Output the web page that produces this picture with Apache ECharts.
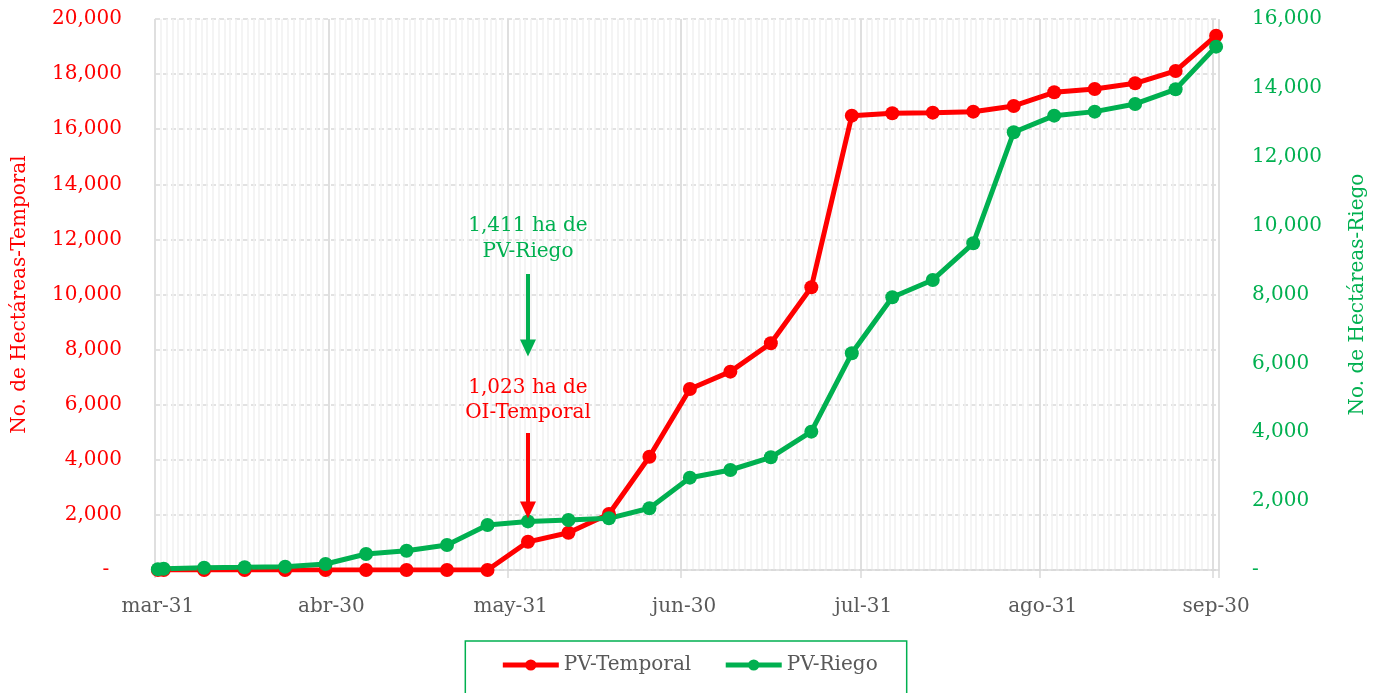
<!DOCTYPE html>
<html>
<head>
<meta charset="utf-8">
<script src="https://cdn.jsdelivr.net/npm/echarts@6/dist/echarts.min.js"></script>
<style>html,body{margin:0;padding:0;background:#fff}#c{width:1378px;height:693px}</style>
</head>
<body>
<div id="c"></div>
<script>
// Measurement dates (weekly reports)
const dates = ['2020-03-31','2020-04-01','2020-04-08','2020-04-15','2020-04-22','2020-04-29','2020-05-06','2020-05-13','2020-05-20','2020-05-27','2020-06-03','2020-06-10','2020-06-17','2020-06-24','2020-07-01','2020-07-08','2020-07-15','2020-07-22','2020-07-29','2020-08-05','2020-08-12','2020-08-19','2020-08-26','2020-09-02','2020-09-09','2020-09-16','2020-09-23','2020-09-30'];
// PV-Temporal (left axis, ha)
const temporal = [0,0,0,0,0,0,0,0,0,0,1023,1354,2033,4113,6570,7199,8229,10262,16492,16578,16600,16637,16843,17340,17460,17667,18114,19395];
// PV-Riego (right axis, ha)
const riego = [20,35,67,78,97,174,465,561,726,1307,1411,1452,1501,1792,2681,2904,3272,4017,6293,7919,8422,9487,12711,13193,13310,13533,13959,15197];
// x-axis tick dates and labels
const tickDates = ['2020-03-31','2020-04-30','2020-05-31','2020-06-30','2020-07-31','2020-08-31','2020-09-30'];
const tickLabels = ['mar-31','abr-30','may-31','jun-30','jul-31','ago-31','sep-30'];
// annotations
const annotDate = '2020-06-03';
const annotRiegoText = '1,411 ha de\nPV-Riego';
const annotTemporalText = '1,023 ha de\nOI-Temporal';

// daily categories from first to last tick date
const days = [];
{
  const start = Date.UTC(2020, 2, 31), end = Date.UTC(2020, 8, 30);
  for (let t = start; t <= end; t += 86400000) days.push(new Date(t).toISOString().slice(0, 10));
}
const isTick = (i, v) => tickDates.indexOf(v) >= 0;
const RED = '#FF0000', GREEN = '#00B050', GRAY = '#595959';
const FONT = 'DejaVu Serif';

const chart = echarts.init(document.getElementById('c'));
chart.setOption({
  animation: false,
  textStyle: { fontFamily: FONT },
  grid: { left: 155, right: 159, top: 19, bottom: 123 },
  xAxis: [
    {
      type: 'category', data: days, boundaryGap: true,
      axisLine: { show: true, lineStyle: { color: '#D9D9D9', width: 1.5 } },
      axisTick: { show: true, interval: isTick, length: 8, lineStyle: { color: '#D9D9D9', width: 1.5 } },
      axisLabel: { show: true, interval: isTick, margin: 27, color: GRAY, fontSize: 20, fontFamily: FONT,
        formatter: v => tickLabels[tickDates.indexOf(v)] },
      splitLine: { show: true, interval: 0, lineStyle: { color: '#F0F0F0', width: 1.5 } }
    },
    {
      type: 'category', data: days, boundaryGap: true, position: 'bottom',
      axisLine: { show: false }, axisTick: { show: false }, axisLabel: { show: false },
      splitLine: { show: true, interval: isTick, lineStyle: { color: '#D9D9D9', width: 1.5 } }
    }
  ],
  yAxis: [
    {
      type: 'value', min: 0, max: 20000, interval: 2000, position: 'left',
      name: 'No. de Hectáreas-Temporal', nameLocation: 'middle', nameGap: 125, nameRotate: 90,
      nameTextStyle: { color: RED, fontSize: 20, fontFamily: FONT },
      axisLine: { show: false }, axisTick: { show: false },
      axisLabel: { color: RED, fontSize: 20, margin: 33, fontFamily: FONT,
        formatter: v => v === 0 ? '-  ' : v.toLocaleString('en-US') },
      splitLine: { show: true, lineStyle: { color: '#D9D9D9', type: [5, 3], width: 1.5 } }
    },
    {
      type: 'value', min: 0, max: 16000, interval: 2000, position: 'right',
      name: 'No. de Hectáreas-Riego', nameLocation: 'middle', nameGap: 129, nameRotate: 90,
      nameTextStyle: { color: GREEN, fontSize: 20, fontFamily: FONT },
      axisLine: { show: false }, axisTick: { show: false },
      axisLabel: { color: GREEN, fontSize: 20, margin: 33, fontFamily: FONT,
        formatter: v => v === 0 ? '-' : v.toLocaleString('en-US') },
      splitLine: { show: false }
    }
  ],
  legend: {
    left: 'center', top: 641, orient: 'horizontal',
    padding: [14, 29, 24, 35], itemGap: 32, itemWidth: 56, itemHeight: 14,
    borderColor: GREEN, borderWidth: 1.5,
    textStyle: { color: GRAY, fontSize: 20, fontFamily: FONT },
    data: [
      { name: 'PV-Temporal', lineStyle: { width: 5 } },
      { name: 'PV-Riego', lineStyle: { width: 5 } }
    ]
  },
  series: [
    {
      name: 'PV-Temporal', type: 'line', xAxisIndex: 0, yAxisIndex: 0,
      data: dates.map((d, i) => [d, temporal[i]]),
      symbol: 'circle', symbolSize: 14, showSymbol: true, showAllSymbol: true,
      lineStyle: { color: RED, width: 5 }, itemStyle: { color: RED },
      markLine: {
        silent: true, z: 6, symbol: ['none', 'triangle'], symbolSize: [16, 17],
        label: { show: false },
        data: [
          [{ coord: [annotDate, 10745], lineStyle: { color: GREEN, width: 4, type: 'solid' }, itemStyle: { color: GREEN } },
           { coord: [annotDate, 8059] }],
          [{ coord: [annotDate, 4973], lineStyle: { color: RED, width: 4, type: 'solid' }, itemStyle: { color: RED } },
           { coord: [annotDate, 2178] }]
        ]
      },
      markPoint: {
        silent: true, symbol: 'circle', symbolSize: 1, itemStyle: { color: 'rgba(0,0,0,0)' },
        data: [
          { coord: [annotDate, 12015], label: { show: true, position: 'inside', formatter: annotRiegoText,
            color: GREEN, fontSize: 20, lineHeight: 26, align: 'center', fontFamily: FONT } },
          { coord: [annotDate, 6153], label: { show: true, position: 'inside', formatter: annotTemporalText,
            color: RED, fontSize: 20, lineHeight: 25, align: 'center', fontFamily: FONT } }
        ]
      }
    },
    {
      name: 'PV-Riego', type: 'line', xAxisIndex: 0, yAxisIndex: 1,
      data: dates.map((d, i) => [d, riego[i]]),
      symbol: 'circle', symbolSize: 14, showSymbol: true, showAllSymbol: true,
      lineStyle: { color: GREEN, width: 5 }, itemStyle: { color: GREEN }
    }
  ]
});
</script>
</body>
</html>
